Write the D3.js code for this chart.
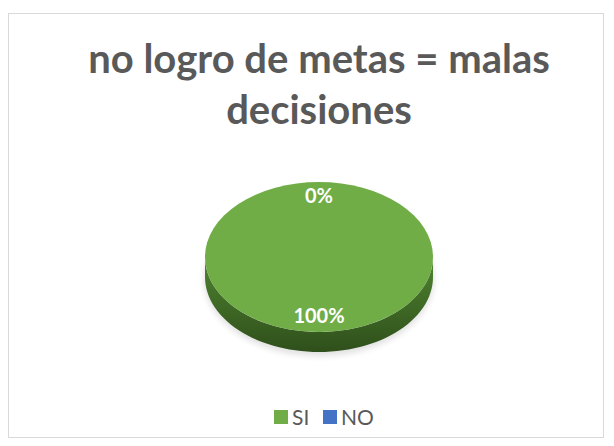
<!DOCTYPE html>
<html><head><meta charset="utf-8">
<script src="https://cdn.jsdelivr.net/npm/d3@7/dist/d3.min.js"></script>
<style>html,body{margin:0;padding:0;background:#fff;}</style>
</head><body>
<svg id="c" width="614" height="446"></svg>
<script>
const titleLines = ["no logro de metas = malas", "decisiones"];
const categories = ["SI", "NO"];
const values = [100, 0];
const labels = ["100%", "0%"];
const colors = ["#70AD47", "#4472C4"];

const svg = d3.select("#c");
svg.append("rect").attr("x", 8.5).attr("y", 13.5).attr("width", 595).attr("height", 424)
  .attr("fill", "#fff").attr("stroke", "#d9d9d9").attr("stroke-width", 1);

const title = svg.append("text").attr("text-anchor", "middle")
  .attr("font-family", "Lato, 'Open Sans', sans-serif").attr("font-weight", "bold")
  .attr("font-size", 40).attr("fill", "#595959");
titleLines.forEach((t, i) => title.append("tspan").attr("x", 319).attr("y", 73 + i * 51).text(t));

const cx = 319, cy = 257, rx = 114, ry = 75, depth = 20;
const defs = svg.append("defs");
const g1 = defs.append("linearGradient").attr("id", "side").attr("x1", 0).attr("x2", 0).attr("y1", 0).attr("y2", 1);
g1.append("stop").attr("offset", "0%").attr("stop-color", "#4f8431");
g1.append("stop").attr("offset", "100%").attr("stop-color", "#2f4f1b");
const f = defs.append("filter").attr("id", "blur").attr("x", "-20%").attr("y", "-20%").attr("width", "140%").attr("height", "140%");
f.append("feGaussianBlur").attr("stdDeviation", 3);

const pie = d3.pie().sort(null).value(d => d)(values);
const sy = ry / rx;

svg.append("ellipse").attr("cx", cx).attr("cy", cy + depth + 2).attr("rx", rx + 1).attr("ry", ry + 2)
  .attr("fill", "#000").attr("opacity", 0.12).attr("filter", "url(#blur)");

function pt(a, dy) { return [cx + rx * Math.sin(a), cy - ry * Math.cos(a) + dy]; }
pie.forEach((d, i) => {
  const a0 = Math.max(d.startAngle, Math.PI / 2), a1 = Math.min(d.endAngle, 3 * Math.PI / 2);
  if (a1 <= a0) return;
  const n = 60, top = [], bot = [];
  for (let k = 0; k <= n; k++) { const a = a0 + (a1 - a0) * k / n; top.push(pt(a, 0)); bot.push(pt(a, depth)); }
  const path = "M" + top.map(p => p.join(",")).join("L") + "L" + bot.reverse().map(p => p.join(",")).join("L") + "Z";
  svg.append("path").attr("d", path).attr("fill", i === 0 ? "url(#side)" : d3.color(colors[i]).darker(1));
});

const arc = d3.arc().innerRadius(0).outerRadius(rx);
const topG = svg.append("g").attr("transform", `translate(${cx},${cy}) scale(1,${sy})`);
topG.selectAll("path").data(pie).join("path").attr("d", arc).attr("fill", (d, i) => colors[i]);

const lab = d3.arc().innerRadius(rx * 0.8).outerRadius(rx * 0.8);
pie.forEach((d, i) => {
  const c = lab.centroid(d);
  svg.append("text").attr("x", cx + c[0]).attr("y", cy + c[1] * sy + 6).attr("text-anchor", "middle")
    .attr("font-family", "Lato, 'Open Sans', sans-serif").attr("font-weight", "bold").attr("font-size", 20)
    .attr("fill", "#fff").text(labels[i]);
});

const leg = svg.append("g").attr("font-family", "Lato, 'Open Sans', sans-serif").attr("font-size", 21).attr("fill", "#595959");
const lx = [274, 323];
categories.forEach((c, i) => {
  leg.append("rect").attr("x", lx[i]).attr("y", 410).attr("width", 14).attr("height", 14).attr("fill", colors[i]);
  leg.append("text").attr("x", lx[i] + 18).attr("y", 425).text(c);
});
</script>
</body></html>
